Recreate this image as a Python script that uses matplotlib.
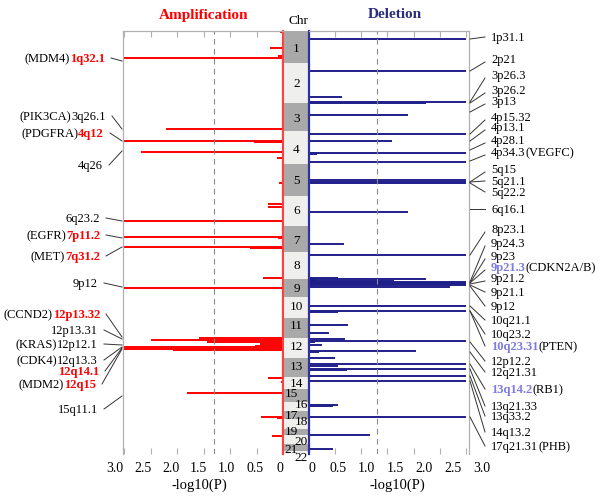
import matplotlib
matplotlib.use('Agg')
import matplotlib.pyplot as plt
import matplotlib.transforms as mtransforms

plt.rcParams['font.family'] = ['Liberation Serif', 'DejaVu Serif']

# genome position runs down the page (same units as the plot rows, 32 at top, 455 at bottom)
chr_names = [str(i) for i in range(1, 23)]
chr_bounds = [32, 64, 104, 132, 165, 197, 227, 253, 280, 298, 319, 339, 359,
              378, 390, 403, 412, 420, 430, 436, 445, 452, 455]
chr_label_y = [49, 84, 119, 150, 181, 211, 241, 266, 289, 307, 326, 347, 367,
               384, 394, 405, 416, 422, 432, 442, 450, 458]
chr_label_side = [0] * 14 + [-1, 1, -1, 1, -1, 1, -1, 1]

# amplification: position, -log10(P)
amp_pos = [33, 49, 57, 59, 130, 142, 143, 153, 159, 184, 205, 208, 222, 238,
           239, 248, 249, 279, 289, 339, 341, 343, 345, 347, 348, 350, 351,
           379, 383, 394, 418, 419, 437]
amp_val = [0.05, 0.25, 0.1, 3.0, 2.2, 3.0, 0.55, 2.68, 0.12, 0.07, 0.28, 0.28,
           3.0, 3.0, 0.1, 3.0, 0.62, 0.38, 3.0, 1.58, 2.5, 1.43, 0.43, 0.53,
           3.0, 3.0, 2.08, 0.28, 0.03, 1.81, 0.41, 0.12, 0.2]

# deletion: position, -log10(P)
del_pos = [40, 72, 98, 103, 104, 116, 135, 142, 154, 155, 163, 181, 183, 184,
           213, 245, 256, 279, 280, 281, 282, 283, 284, 285, 286, 288, 307,
           312, 313, 326, 334, 340, 342, 343, 346, 352, 353, 359, 365, 367,
           370, 371, 377, 382, 406, 407, 418, 436, 450]
del_val = [3.0, 3.0, 0.63, 3.0, 2.24, 1.9, 3.0, 1.59, 3.0, 0.15, 3.0, 3.0, 3.0,
           3.0, 1.9, 0.67, 3.0, 0.55, 2.24, 0.15, 1.63, 3.0, 3.0, 3.0, 3.0,
           2.7, 3.0, 3.0, 0.55, 0.74, 0.38, 0.68, 3.0, 0.12, 0.24, 2.05, 0.2,
           0.5, 3.0, 0.55, 3.0, 0.72, 3.0, 3.0, 0.55, 0.45, 3.0, 1.17, 0.46]

# labels on the left
amp_gene = ["(MDM4) ", "(PIK3CA) ", "(PDGFRA) ", "", "", "(EGFR)", "(MET)", "",
            "(CCND2)", "", "(KRAS)", "(CDK4)", "", "(MDM2)", ""]
amp_band = ["1q32.1", "3q26.1", "4q12", "4q26", "6q23.2", "7p11.2", "7q31.2",
            "9p12", "12p13.32", "12p13.31", "12p12.1", "12q13.3", "12q14.1",
            "12q15", "15q11.1"]
amp_hl = [1, 0, 1, 0, 0, 1, 1, 0, 1, 0, 0, 0, 1, 1, 0]
amp_lbl_y = [59, 117, 134, 166, 219, 236, 257, 284, 315, 331, 345, 361, 372, 385, 410]
amp_lbl_to = [62, 130, 142, 152, 222, 239, 248, 288, 338, 340, 346, 348, 349, 350, 397]
amp_lbl_x = [105, 106, 104, 103, 100, 100, 100, 98, 100, 98, 98, 98, 99, 96, 98]

# labels on the right
del_band = ["1p31.1", "2p21", "3p26.3", "3p26.2", "3p13", "4p15.32", "4p13.1",
            "4p28.1", "4p34.3", "5q15", "5q21.1", "5q22.2", "6q16.1", "8p23.1",
            "9p24.3", "9p23", "9p21.3", "9p21.2", "9p21.1", "9p12", "10q21.1",
            "10q23.2", "10q23.31", "12p12.2", "12q21.31", "13q14.2", "13q21.33",
            "13q33.2", "14q13.2", "17q21.31"]
del_gene = ["", "", "", "", "", "", "", "", " (VEGFC)", "", "", "", "", "", "",
            "", "(CDKN2A/B)", "", "", "", "", "", "(PTEN)", "", "", " (RB1)",
            "", "", "", "(PHB)"]
del_hl = [0] * 16 + [1] + [0] * 5 + [1, 0, 0, 1, 0, 0, 0, 0]
del_lbl_y = [38, 60, 76, 91, 102, 118, 128, 141, 153, 170, 182, 193, 210, 230,
             244, 257, 268, 279, 293, 307, 321, 335, 347, 362, 373, 390, 407,
             417, 433, 447]
del_lbl_to = [40, 72, 103, 104, 113, 135, 142, 151, 162, 183, 183, 184, 210, 256,
              283, 284, 284, 285, 286, 287, 307, 312, 312, 343, 353, 365, 370,
              377, 382, 418]

RED = '#ff0000'
NAVY = '#1f1f8a'
LBLUE = '#7b7be3'
GRID = '#b0b0b0'
DARK = '#a9a9a9'
LIGHT = '#efefed'

W, H = 600, 502
fig = plt.figure(figsize=(6, 5.02), dpi=100)


def rect(x0, y0, x1, y1):
    return [x0 / W, 1 - y1 / H, (x1 - x0) / W, (y1 - y0) / H]


ax_amp = fig.add_axes(rect(123, 32, 283, 455))
ax_chr = fig.add_axes(rect(284, 32, 309, 455))
ax_del = fig.add_axes(rect(309, 32, 469, 455))
ov = fig.add_axes([0, 0, 1, 1])
ov.set_xlim(0, W)
ov.set_ylim(H, 0)
ov.axis('off')
ov.patch.set_visible(False)

ticks = [0, 0.5, 1.0, 1.5, 2.0, 2.5, 3.0]
tick_txt = ['0', '0.5', '1.0', '1.5', '2.0', '2.5', '3.0']

ax_amp.hlines(amp_pos, 0, amp_val, color=RED, lw=1.4)
ax_amp.set_xlim(3.02, 0)
ax_del.hlines(del_pos, 0, del_val, color=NAVY, lw=1.4)
ax_del.set_xlim(0, 3.06)

for ax, edge, ecol, k in [(ax_amp, 'right', '#ff4040', 1.06), (ax_del, 'left', '#3030a0', 1.1)]:
    ax.set_ylim(455, 32)
    ax.axvline(1.301, color='#8a8a8a', lw=0.8, ls=(0, (5, 4)))
    ax.set_yticks([])
    ax.set_xticks(ticks)
    ax.tick_params(axis='x', top=True, bottom=True, direction='in', length=4,
                   color=GRID, labelbottom=False, labeltop=False)
    for s in ax.spines.values():
        s.set_color(GRID)
        s.set_linewidth(0.9)
    ax.spines['bottom'].set_visible(False)
    ax.spines[edge].set_color(ecol)
    ax.spines[edge].set_linewidth(1.6)
    tr = mtransforms.blended_transform_factory(ax.transData, ax.transAxes)
    for v, t in zip(ticks, tick_txt):
        pos = v * k if v > 0 else 0.06
        ax.text(pos, -0.031, t, transform=tr, ha='center', va='center', fontsize=10)
    ax.text(0.48 if edge == 'right' else 0.55, -0.072, '-log10(P)',
            transform=ax.transAxes, ha='center', va='center', fontsize=10.5)

# chromosome column
ax_chr.set_xlim(0, 1)
ax_chr.set_ylim(455, 32)
ax_chr.axis('off')
for i, name in enumerate(chr_names):
    ax_chr.axhspan(chr_bounds[i], chr_bounds[i + 1], color=DARK if i % 2 == 0 else LIGHT, lw=0)
    ax_chr.text(0.5 + 0.2 * chr_label_side[i], chr_label_y[i], name, ha='center',
                va='center', fontsize=9.5, clip_on=False)

ov.text(204, 16, 'Amplification', color=RED, fontweight='bold', fontsize=11,
        ha='center', va='center')
ov.text(395, 15, 'Deletion', color='#2b2b80', fontweight='bold', fontsize=11,
        ha='center', va='center')
ov.text(298, 21, 'Chr', fontsize=9.5, ha='center', va='center')

fig.canvas.draw()
renderer = fig.canvas.get_renderer()


def put_parts(x, y, parts, align):
    seq = parts[::-1] if align == 'right' else parts
    for s, c, b in seq:
        if not s.strip():
            continue
        t = ov.text(x, y, s.strip(), color=c, fontweight='bold' if b else 'normal',
                    ha=align, va='center', fontsize=9)
        w = t.get_window_extent(renderer).width
        gap = 3 if s != s.strip() else 0
        x = x - w - gap if align == 'right' else x + w + gap


for g, b, hl, y, to, x in zip(amp_gene, amp_band, amp_hl, amp_lbl_y, amp_lbl_to, amp_lbl_x):
    put_parts(x, y, [(g, 'black', False), (b, RED if hl else 'black', bool(hl))], 'right')
    ov.plot([x + 6, 122], [y, to], color='#333333', lw=0.7)

for g, b, hl, y, to in zip(del_gene, del_band, del_hl, del_lbl_y, del_lbl_to):
    put_parts(491, y, [(b, LBLUE if hl else 'black', bool(hl)), (g, 'black', False)], 'left')
    end_y = y + 3 if to > y + 5 else y
    ov.plot([470, 485], [to, end_y], color='#333333', lw=0.7)

fig.savefig('out.png', dpi=100)
